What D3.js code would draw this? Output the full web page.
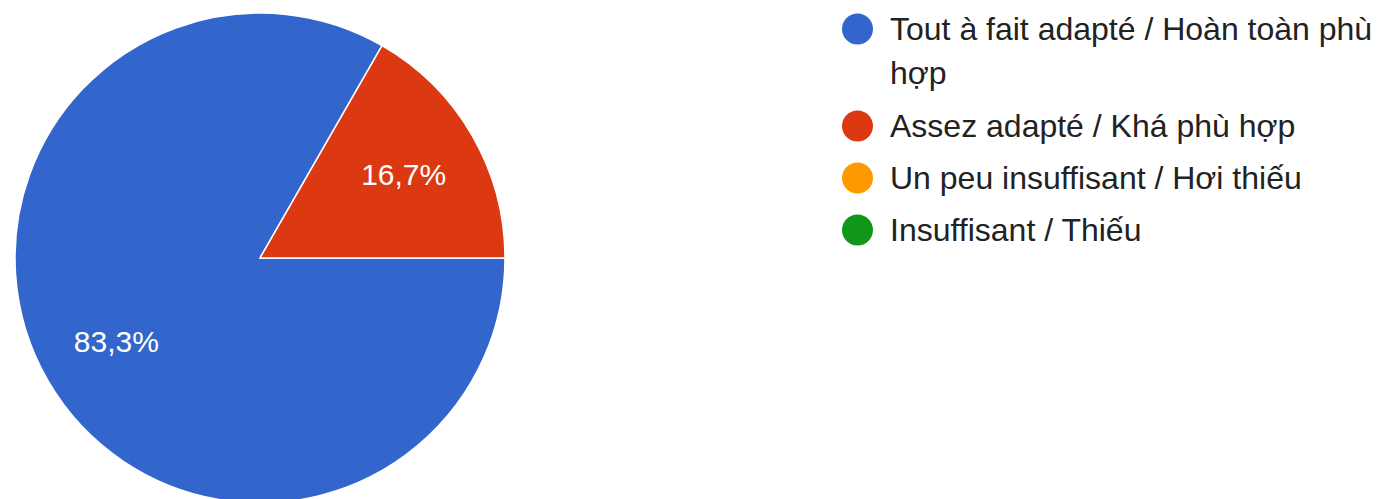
<!DOCTYPE html>
<html>
<head>
<meta charset="utf-8">
<script src="https://cdn.jsdelivr.net/npm/d3@7/dist/d3.min.js"></script>
<style>
  html, body { margin: 0; padding: 0; background: #ffffff; }
  svg { display: block; }
  text { font-family: Arial, "Liberation Sans", sans-serif; }
</style>
</head>
<body>
<svg id="chart" width="1388" height="499"></svg>
<script>
// Data
const categories = [
  "Tout à fait adapté / Hoàn toàn phù hợp",
  "Assez adapté / Khá phù hợp",
  "Un peu insuffisant / Hơi thiếu",
  "Insuffisant / Thiếu"
];
const values = [83.3, 16.7, 0, 0];
const colors = ["#3366cc", "#dc3912", "#ff9900", "#109618"];

const W = 1388, H = 499;
const cx = 260, cy = 258, R = 245;
const labelR = 166;

const svg = d3.select("#chart");

const color = d3.scaleOrdinal().domain(categories).range(colors);

const pie = d3.pie()
  .sort(null)
  .value(d => d.value)
  .startAngle(Math.PI / 2)
  .endAngle(Math.PI / 2 + 2 * Math.PI);

const data = categories.map((c, i) => ({ name: c, value: values[i] }));
const arcs = pie(data);

const arc = d3.arc().innerRadius(0).outerRadius(R);
const labelArc = d3.arc().innerRadius(labelR).outerRadius(labelR);

const g = svg.append("g").attr("transform", `translate(${cx},${cy})`);

g.selectAll("path")
  .data(arcs.filter(d => d.data.value > 0))
  .join("path")
  .attr("d", arc)
  .attr("fill", d => color(d.data.name))
  .attr("stroke", "#ffffff")
  .attr("stroke-width", 1.5)
  .attr("stroke-linejoin", "round");

const fmt = v => v.toFixed(1).replace(".", ",") + "%";

g.selectAll("text.lbl")
  .data(arcs.filter(d => d.data.value > 0))
  .join("text")
  .attr("class", "lbl")
  .attr("transform", d => `translate(${labelArc.centroid(d)})`)
  .attr("text-anchor", "middle")
  .attr("dy", "0.35em")
  .attr("fill", "#ffffff")
  .attr("font-size", 30)
  .text(d => fmt(d.data.value));

// Legend
const legend = svg.append("g");
const circleX = 857.5, circleR = 15.5, textX = 890;
const firstY = 29, entryGap = 52, lineGap = 44;
const maxW = W - textX - 2;
let y = firstY;

categories.forEach((name, i) => {
  legend.append("circle")
    .attr("cx", circleX)
    .attr("cy", y)
    .attr("r", circleR)
    .attr("fill", color(name));

  const t = legend.append("text")
    .attr("x", textX)
    .attr("y", y)
    .attr("dy", "0.35em")
    .attr("font-size", 32)
    .attr("fill", "#222222");

  const words = name.split(" ");
  let line = [];
  let tspan = t.append("tspan").attr("x", textX);
  let lines = 1;
  words.forEach(w => {
    line.push(w);
    tspan.text(line.join(" "));
    if (tspan.node().getComputedTextLength() > maxW && line.length > 1) {
      line.pop();
      tspan.text(line.join(" "));
      line = [w];
      tspan = t.append("tspan").attr("x", textX).attr("dy", lineGap).text(w);
      lines++;
    }
  });
  y += entryGap + (lines - 1) * (lineGap + 1);
});
</script>
</body>
</html>
